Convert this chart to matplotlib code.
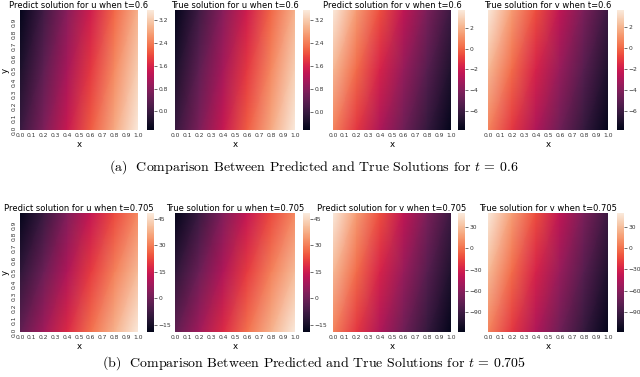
import matplotlib
matplotlib.use("Agg")
import matplotlib.pyplot as plt
import seaborn as sns

# field samples
# rows are y = 1.0, 0.5, 0.0 (top to bottom), columns are x = 0.0 .. 1.0
x_pts = [0.0, 0.2, 0.4, 0.6, 0.8, 1.0]
y_pts = [1.0, 0.5, 0.0]

u_pred_a = [[-0.65, 0.06, 0.78, 1.49, 2.21, 2.92],
            [-0.34, 0.38, 1.10, 1.81, 2.52, 3.24],
            [-0.02, 0.69, 1.41, 2.12, 2.84, 3.55]]
u_true_a = [[-0.62, 0.08, 0.80, 1.50, 2.22, 2.93],
            [-0.32, 0.40, 1.11, 1.82, 2.53, 3.25],
            [-0.01, 0.70, 1.42, 2.13, 2.85, 3.56]]
v_pred_a = [[3.70, 1.40, -0.56, -2.40, -4.24, -5.96],
            [2.20, 0.14, -1.71, -3.49, -5.22, -6.88],
            [0.71, -1.13, -2.86, -4.58, -6.19, -7.80]]
v_true_a = [[3.66, 1.37, -0.59, -2.43, -4.27, -5.99],
            [2.17, 0.11, -1.74, -3.52, -5.25, -6.91],
            [0.68, -1.16, -2.89, -4.61, -6.22, -7.83]]

u_pred_b = [[-19.0, -8.9, 2.6, 13.4, 22.8, 31.6],
            [-10.6, -0.5, 10.4, 20.8, 30.6, 40.0],
            [-2.2, 8.0, 18.1, 28.2, 38.3, 48.4]]
u_true_b = [[-19.2, -9.0, 2.4, 13.2, 22.6, 31.4],
            [-10.8, -0.6, 10.2, 20.6, 30.4, 39.8],
            [-2.4, 7.8, 17.9, 28.0, 38.1, 48.2]]
v_pred_b = [[50.0, 16.4, -12.2, -39.0, -65.9, -91.1],
            [28.2, -2.1, -29.0, -55.0, -80.2, -104.6],
            [6.3, -20.6, -45.8, -71.0, -94.5, -118.0]]
v_true_b = [[49.5, 16.1, -12.5, -39.3, -66.2, -91.4],
            [27.9, -2.4, -29.3, -55.3, -80.5, -104.9],
            [6.0, -20.9, -46.1, -71.3, -94.8, -118.3]]

titles_a = ["Predict solution for u when t=0.6", "True solution for u when t=0.6",
            "Predict solution for v when t=0.6", "True solution for v when t=0.6"]
titles_b = ["Predict solution for u when t=0.705", "True solution for u when t=0.705",
            "Predict solution for v when t=0.705", "True solution for v when t=0.705"]
cbar_ticks_a = [[0.0, 0.8, 1.6, 2.4, 3.2], [0.0, 0.8, 1.6, 2.4, 3.2],
                [-6, -4, -2, 0, 2], [-6, -4, -2, 0, 2]]
cbar_ticks_b = [[-15, 0, 15, 30, 45], [-15, 0, 15, 30, 45],
                [-90, -60, -30, 0, 30], [-90, -60, -30, 0, 30]]
x_ticks = [0.0, 0.1, 0.2, 0.3, 0.4, 0.5, 0.6, 0.7, 0.8, 0.9, 1.0]
y_ticks = [0.0, 0.1, 0.2, 0.3, 0.4, 0.5, 0.6, 0.7, 0.8, 0.9]

cmap = sns.color_palette("rocket", as_cmap=True)

W, H = 640, 377
fig = plt.figure(figsize=(6.4, 3.77), dpi=100)

heat_x = [(20, 138), (175, 295), (333, 451), (488, 608)]
cbar_x = [(147, 154), (303, 310), (458, 465), (617, 624)]
rows = [(10, 130), (213, 332)]


def px(x0, x1, y0, y1):
    return [x0 / W, 1 - y1 / H, (x1 - x0) / W, (y1 - y0) / H]


fields = [[u_pred_a, u_true_a, v_pred_a, v_true_a],
          [u_pred_b, u_true_b, v_pred_b, v_true_b]]
titles = [titles_a, titles_b]
cticks = [cbar_ticks_a, cbar_ticks_b]

for r, (y0, y1) in enumerate(rows):
    for c in range(4):
        z = fields[r][c]
        ax = fig.add_axes(px(heat_x[c][0], heat_x[c][1], y0, y1))
        vmin = min(min(row) for row in z)
        vmax = max(max(row) for row in z)
        mesh = ax.pcolormesh(x_pts, y_pts, z, shading="gouraud", cmap=cmap,
                             vmin=vmin, vmax=vmax, rasterized=True)
        ax.set_xlim(0, 1)
        ax.set_ylim(0, 1)
        for s in ax.spines.values():
            s.set_visible(False)
        ax.set_xticks(x_ticks)
        ax.set_xticklabels([f"{t:.1f}" for t in x_ticks])
        ax.tick_params(length=0, labelsize=4.3, pad=2.5, colors="#333333")
        ax.set_xlabel("x", fontsize=6.2, labelpad=1)
        if c == 0:
            ax.set_yticks(y_ticks)
            ax.set_yticklabels([f"{t:.1f}" for t in y_ticks], rotation=90, va="center")
            ax.set_ylabel("y", fontsize=6.2, labelpad=1)
        else:
            ax.set_yticks([])
        ax.set_title(titles[r][c], fontsize=6.0, pad=1.5)

        cax = fig.add_axes(px(cbar_x[c][0], cbar_x[c][1], y0, y1))
        cb = fig.colorbar(mesh, cax=cax, ticks=cticks[r][c])
        cb.outline.set_visible(False)
        cax.tick_params(labelsize=4.3, length=2, width=0.5, pad=1, colors="#333333")

plt.rcParams["mathtext.fontset"] = "cm"
fig.text(314 / W, 1 - 167 / H, r"(a)  Comparison Between Predicted and True Solutions for $t$ = 0.6",
         family="cmr10", fontsize=10, ha="center", va="center")
fig.text(314 / W, 1 - 363 / H, r"(b)  Comparison Between Predicted and True Solutions for $t$ = 0.705",
         family="cmr10", fontsize=10, ha="center", va="center")

fig.savefig("out.png", dpi=100)
